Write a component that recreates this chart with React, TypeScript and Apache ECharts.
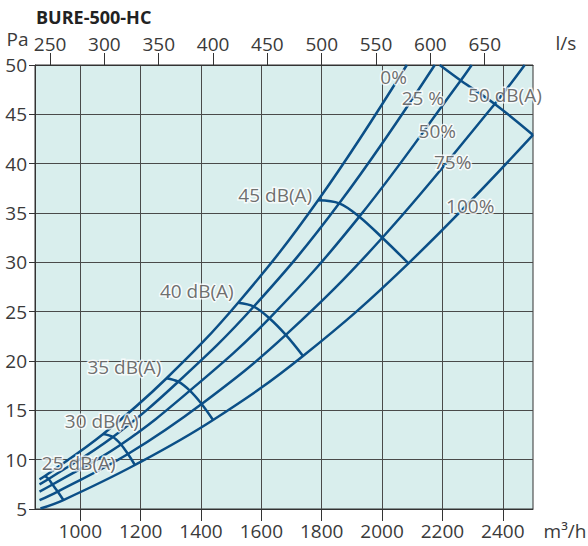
import React, { useEffect, useRef } from "react";
import * as echarts from "echarts";

// Fan curves (damper position), flow m³/h and pressure Pa
const curveNames = ["0%", "25 %", "50%", "75%", "100%"];
const flow0 = [865, 883, 1076, 1286, 1523, 1788, 2082];
const pres0 = [8.0, 8.34, 12.6, 18.25, 25.91, 36.29, 50];
const flow25 = [865, 895, 1108, 1324.5, 1575, 1858, 2174.5];
const pres25 = [7.5, 8.04, 12.3, 17.9, 25.52, 35.98, 50];
const flow50 = [865, 908, 1135, 1363, 1626.5, 1924.5, 2260.6, 2297];
const pres50 = [6.77, 7.48, 11.54, 16.99, 24.33, 34.63, 48.43, 50];
const flow75 = [865, 925, 1158, 1402, 1681, 2000.7, 2373.2, 2472.5];
const pres75 = [5.89, 6.77, 10.57, 15.64, 22.64, 32.49, 46.05, 50];
const flow100 = [868, 944, 1181, 1440, 1738, 2087.4, 2500];
const pres100 = [5.05, 5.91, 9.46, 14.02, 20.51, 29.9, 42.91];

// Sound level isolines dB(A)
const dbNames = ["25 dB(A)", "30 dB(A)", "35 dB(A)", "40 dB(A)", "45 dB(A)", "50 dB(A)"];
const db25Flow = [883, 895, 908, 925, 944];
const db25Pres = [8.34, 8.04, 7.48, 6.77, 5.91];
const db30Flow = [1076, 1108, 1135, 1158, 1181];
const db30Pres = [12.6, 12.3, 11.54, 10.57, 9.46];
const db35Flow = [1286, 1324.5, 1363, 1402, 1440];
const db35Pres = [18.25, 17.9, 16.99, 15.64, 14.02];
const db40Flow = [1523, 1575, 1626.5, 1681, 1738];
const db40Pres = [25.91, 25.52, 24.33, 22.64, 20.51];
const db45Flow = [1788, 1858, 1924.5, 2000.7, 2087.4];
const db45Pres = [36.29, 35.98, 34.63, 32.49, 29.9];
const db50Flow = [2191, 2260.6, 2373.2, 2500];
const db50Pres = [50, 48.43, 46.05, 42.91];

// Label anchor positions (flow, pressure)
const curveLabelFlow = [2038, 2135, 2183, 2234, 2292];
const curveLabelPres = [48.81, 46.62, 43.36, 40.12, 35.66];
const dbLabelFlow = [995, 1071, 1146, 1386, 1646, 2407];
const dbLabelPres = [9.63, 13.89, 19.37, 27.09, 36.82, 46.96];

// Axes
const xTicks = [1000, 1200, 1400, 1600, 1800, 2000, 2200, 2400];
const topTicksLs = [250, 300, 350, 400, 450, 500, 550, 600, 650];
const xMin = 850;
const xMax = 2500;
const yMin = 5;
const yMax = 50;

const FONT = '"Open Sans", "Noto Sans", sans-serif';
const BLUE = "#0b4f87";

function zip(a: number[], b: number[]) {
  return a.map((v, i) => [v, b[i]]);
}

export default function App() {
  const ref = useRef<HTMLDivElement>(null);
  useEffect(() => {
    document.body.style.margin = "0";
    if (!ref.current) return;
    const chart = echarts.init(ref.current, undefined, { renderer: "svg" });

    const curves = [
      zip(flow0, pres0),
      zip(flow25, pres25),
      zip(flow50, pres50),
      zip(flow75, pres75),
      zip(flow100, pres100),
    ];
    const isolines = [
      zip(db25Flow, db25Pres),
      zip(db30Flow, db30Pres),
      zip(db35Flow, db35Pres),
      zip(db40Flow, db40Pres),
      zip(db45Flow, db45Pres),
      zip(db50Flow, db50Pres),
    ];

    const lineSeries: any[] = [];
    curves.forEach((d, i) => {
      lineSeries.push({
        type: "line",
        name: curveNames[i],
        data: d,
        smooth: 0.4,
        showSymbol: false,
        silent: true,
        lineStyle: { color: BLUE, width: 2.5 },
        z: 3,
      });
    });
    isolines.forEach((d, i) => {
      lineSeries.push({
        type: "line",
        name: dbNames[i],
        data: d,
        smooth: 0.35,
        showSymbol: false,
        silent: true,
        lineStyle: { color: BLUE, width: 2.5 },
        z: 3,
      });
    });

    const labelData = [
      ...curveNames.map((n, i) => ({ name: n, value: [curveLabelFlow[i], curveLabelPres[i]] })),
      ...dbNames.map((n, i) => ({ name: n, value: [dbLabelFlow[i], dbLabelPres[i]] })),
    ];

    const axisLabelStyle = { color: "#3a3a3a", fontSize: 19, fontFamily: FONT };

    chart.setOption({
      animation: false,
      backgroundColor: "#ffffff",
      grid: {
        left: 35,
        top: 65,
        right: 55,
        bottom: 37,
        show: true,
        backgroundColor: "#d9eeed",
        borderColor: "#333",
        borderWidth: 1,
      },
      xAxis: [
        {
          type: "value",
          min: xMin,
          max: xMax,
          position: "bottom",
          axisLine: { show: true, lineStyle: { color: "#333", width: 1 } },
          axisTick: { show: true, length: 12, customValues: xTicks, lineStyle: { color: "#333" } },
          axisLabel: {
            ...axisLabelStyle,
            margin: 12,
            customValues: xTicks,
            formatter: (v: number) => String(v),
          },
          splitLine: { show: true, lineStyle: { color: "#4a4a4a", width: 1 } },
        },
        {
          type: "value",
          min: xMin,
          max: xMax,
          position: "top",
          axisLine: { show: true, lineStyle: { color: "#333", width: 1 } },
          axisTick: {
            show: true,
            length: 12,
            customValues: topTicksLs.map((v) => v * 3.6),
            lineStyle: { color: "#333" },
          },
          axisLabel: {
            ...axisLabelStyle,
            margin: 12,
            customValues: topTicksLs.map((v) => v * 3.6),
            formatter: (v: number) => String(Math.round(v / 3.6)),
          },
          splitLine: { show: false },
        },
      ],
      yAxis: {
        type: "value",
        min: yMin,
        max: yMax,
        interval: 5,
        axisLine: { show: true, lineStyle: { color: "#333", width: 1 } },
        axisTick: { show: true, length: 6, lineStyle: { color: "#333" } },
        axisLabel: { ...axisLabelStyle, margin: 8 },
        splitLine: { show: true, lineStyle: { color: "#4a4a4a", width: 1 } },
      },
      series: [
        ...lineSeries,
        {
          type: "scatter",
          data: labelData,
          symbolSize: 0,
          silent: true,
          z: 5,
          label: {
            show: true,
            position: "inside",
            formatter: "{b}",
            color: "#4a4a4a",
            fontSize: 19,
            fontFamily: FONT,
            textBorderColor: "#ffffff",
            textBorderWidth: 3,
          },
        },
      ],
      graphic: [
        {
          type: "text",
          style: {
            text: "BURE-500-HC",
            x: 36,
            y: 16.5,
            verticalAlign: "middle",
            font: 'bold 18px "Open Sans", sans-serif',
            fill: "#222",
          },
        },
        {
          type: "text",
          style: {
            text: "Pa",
            x: 17.5,
            y: 39,
            align: "center",
            verticalAlign: "middle",
            font: '19px "Open Sans", sans-serif',
            fill: "#3a3a3a",
          },
        },
        {
          type: "text",
          style: {
            text: "l/s",
            x: 566,
            y: 43.3,
            align: "center",
            verticalAlign: "middle",
            font: '19px "Open Sans", sans-serif',
            fill: "#3a3a3a",
          },
        },
        {
          type: "text",
          style: {
            text: "m³/h",
            x: 565,
            y: 531,
            align: "center",
            verticalAlign: "middle",
            font: '19px "Open Sans", sans-serif',
            fill: "#3a3a3a",
          },
        },
      ],
    });
    return () => chart.dispose();
  }, []);
  return (
    <div
      ref={ref}
      style={{ position: "absolute", left: 0, top: 0, width: 588, height: 546 }}
    />
  );
}
